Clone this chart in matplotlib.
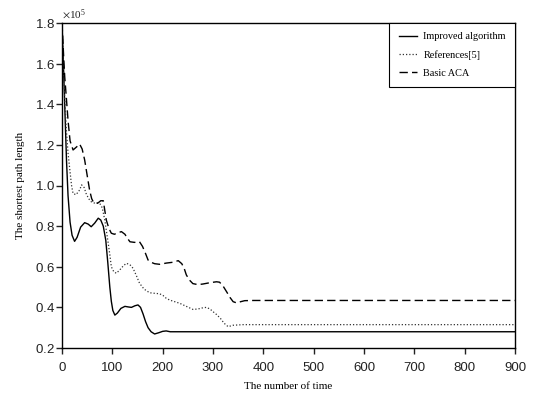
import matplotlib
matplotlib.use("Agg")
import matplotlib.pyplot as plt
from matplotlib.ticker import ScalarFormatter, MultipleLocator

# Data (shortest path length)
x_improved = [0, 3, 6, 9, 12, 16, 20, 25, 30, 37, 45, 52, 58, 65, 72, 77, 82, 87, 91, 95,
              98, 101, 105, 110, 117, 125, 132, 138, 145, 151, 156, 161, 166, 171, 177,
              184, 192, 200, 207, 215, 230, 900]
y_improved = [1.80, 1.58, 1.35, 1.12, 0.95, 0.82, 0.755, 0.725, 0.745, 0.795, 0.817, 0.810,
              0.797, 0.815, 0.839, 0.83, 0.80, 0.73, 0.62, 0.50, 0.43, 0.385, 0.362, 0.372,
              0.395, 0.405, 0.402, 0.400, 0.408, 0.412, 0.40, 0.368, 0.330, 0.300, 0.280,
              0.269, 0.275, 0.282, 0.284, 0.280, 0.280, 0.280]

x_ref5 = [0, 3, 6, 9, 12, 15, 19, 22, 28, 35, 39, 44, 48, 53, 58, 66, 75, 80, 85, 91, 95,
          98, 103, 108, 115, 122, 128, 135, 141, 148, 154, 163, 174, 185, 194, 201, 207, 214,
          224, 234, 247, 260, 270, 280, 287, 294, 300, 307, 315, 322, 330, 340, 360, 900]
y_ref5 = [1.80, 1.58, 1.40, 1.26, 1.16, 1.09, 1.00, 0.96, 0.955, 0.978, 1.003, 0.99, 0.96,
          0.935, 0.92, 0.912, 0.912, 0.89, 0.83, 0.73, 0.66, 0.60, 0.575, 0.568, 0.585,
          0.605, 0.617, 0.610, 0.593, 0.555, 0.519, 0.490, 0.472, 0.469, 0.467, 0.458,
          0.445, 0.436, 0.428, 0.420, 0.405, 0.390, 0.392, 0.398, 0.400, 0.392, 0.379,
          0.365, 0.345, 0.322, 0.305, 0.312, 0.315, 0.315]

x_basic = [0, 3, 5.4, 9, 12, 16, 22, 29, 35, 40, 45, 50, 55, 59, 62, 67, 72, 77, 82, 88,
           93, 98, 104, 111, 118, 125, 130, 135, 144, 154, 160, 166, 171, 177, 184, 194,
           207, 220, 231, 238, 243, 247, 253, 260, 270, 280, 295, 307, 313, 320, 327, 334,
           340, 347, 355, 363, 380, 900]
y_basic = [1.80, 1.65, 1.536, 1.42, 1.32, 1.22, 1.175, 1.19, 1.204, 1.18, 1.126, 1.05,
           0.975, 0.935, 0.920, 0.912, 0.915, 0.925, 0.925, 0.83, 0.79, 0.765, 0.760,
           0.767, 0.773, 0.760, 0.740, 0.723, 0.720, 0.723, 0.700, 0.665, 0.633, 0.622,
           0.615, 0.612, 0.618, 0.622, 0.630, 0.615, 0.590, 0.560, 0.535, 0.517, 0.512,
           0.515, 0.522, 0.526, 0.524, 0.505, 0.477, 0.448, 0.428, 0.422, 0.428, 0.433,
           0.434, 0.434]

SCALE = 1e5
y_improved = [v * SCALE for v in y_improved]
y_ref5 = [v * SCALE for v in y_ref5]
y_basic = [v * SCALE for v in y_basic]

labels = ["Improved algorithm", "References[5]", "Basic ACA"]
x_ticks = [0, 100, 200, 300, 400, 500, 600, 700, 800, 900]

plt.rcParams['mathtext.fontset'] = 'stix'

fig = plt.figure(figsize=(5.34, 3.98), dpi=100)
ax = fig.add_axes([62/534, 1-348/398, (515-62)/534, (348-23)/398])

ax.plot(x_improved, y_improved, color='black', lw=1.0, ls='-', label=labels[0])
ax.plot(x_ref5, y_ref5, color='#333333', lw=0.9, ls=(0, (1, 1.6)), label=labels[1])
ax.plot(x_basic, y_basic, color='black', lw=1.0, ls=(0, (6, 3)), label=labels[2])

ax.set_xlim(0, 900)
ax.set_ylim(0.2e5, 1.8e5)
ax.set_xticks(x_ticks)
ax.yaxis.set_major_locator(MultipleLocator(0.2e5))

fmt = ScalarFormatter(useMathText=True)
fmt.set_powerlimits((0, 0))
ax.yaxis.set_major_formatter(fmt)
ot = ax.yaxis.get_offset_text()
ot.set_fontsize(8)
ot.set_family('Liberation Serif')

for s in ax.spines.values():
    s.set_linewidth(1.0)
    s.set_color('black')

ax.tick_params(axis='both', direction='out', length=4, width=1.0,
               labelsize=9.5, colors='#222222', top=False, right=False)
for lab in ax.get_xticklabels() + ax.get_yticklabels():
    lab.set_family('Liberation Sans')
ax.tick_params(axis='x', pad=6)
ax.tick_params(axis='y', pad=1)

ax.set_xlabel("The number of time", family='Liberation Serif', fontsize=8, labelpad=6)
ax.set_ylabel("The shortest path length", family='Liberation Serif', fontsize=8, labelpad=7)

leg = ax.legend(loc='upper right', borderaxespad=0, fancybox=False, framealpha=1,
                edgecolor='black', prop={'family': 'Liberation Serif', 'size': 7.4},
                handlelength=1.8, labelspacing=0.85, borderpad=0.9, handletextpad=0.6)
leg.get_frame().set_linewidth(0.8)

fig.savefig("out.png", dpi=100)
